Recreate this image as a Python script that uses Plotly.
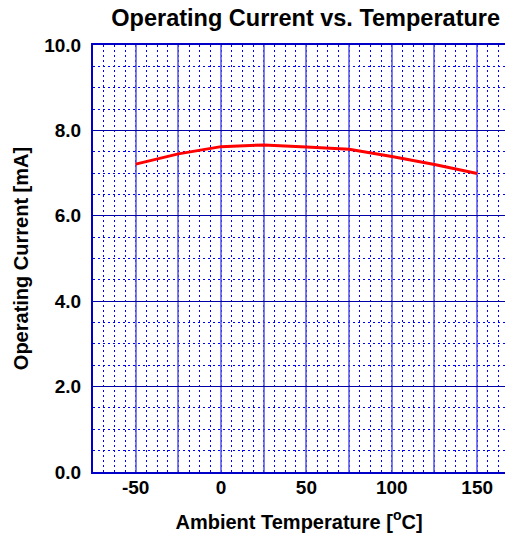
import plotly.graph_objects as go

# Operating current measured across ambient temperature
temperature_c = [-50, -25, 0, 25, 50, 75, 100, 125, 150]
current_ma = [7.21, 7.45, 7.62, 7.66, 7.61, 7.56, 7.39, 7.20, 6.99]

x_tick_vals = [-75, -50, -25, 0, 25, 50, 75, 100, 125, 150, 175]
x_tick_text = ["", "-50", "", "0", "", "50", "", "100", "", "150", ""]
y_tick_vals = [0, 2, 4, 6, 8, 10]
y_tick_text = ["0.0", "2.0", "4.0", "6.0", "8.0", "10.0"]

FONT = "Liberation Sans, Arial, sans-serif"
BORDER = "#0000c8"
DOT_BLUE = "#0000ff"

fig = go.Figure(
    go.Scatter(
        x=temperature_c,
        y=current_ma,
        mode="lines",
        line=dict(color="#ff0000", width=3),
        showlegend=False,
    )
)

fig.update_layout(
    width=505,
    height=541,
    margin=dict(l=93, r=0, t=45, b=69),
    paper_bgcolor="white",
    plot_bgcolor="white",
    font=dict(family=FONT, color="black", size=19, weight="bold"),
    title=dict(
        text="Operating Current vs. Temperature",
        x=0.988,
        xanchor="right",
        xref="paper",
        y=0.967,
        yanchor="middle",
        font=dict(family=FONT, size=23.5, weight="bold", color="black"),
    ),
)

fig.update_xaxes(
    range=[-75, 166.3],
    tickmode="array",
    tickvals=x_tick_vals,
    ticktext=x_tick_text,
    ticks="",
    ticklabelstandoff=-3,
    tickfont=dict(family=FONT, size=19, weight="bold"),
    showgrid=True,
    gridcolor="rgba(80,80,230,0.75)",
    gridwidth=2,
    zeroline=False,
    showline=True,
    linecolor=BORDER,
    linewidth=2,
    mirror=True,
    minor=dict(
        tick0=-75,
        dtick=6.25,
        showgrid=True,
        gridcolor=DOT_BLUE,
        gridwidth=1,
        griddash="2px,3px",
        ticks="",
    ),
    title=dict(
        text="Ambient Temperature [<sup>o</sup>C]",
        font=dict(family=FONT, size=20, weight="bold"),
        standoff=18,
    ),
)

fig.update_yaxes(
    range=[0, 10],
    tickmode="array",
    tickvals=y_tick_vals,
    ticktext=y_tick_text,
    ticks="",
    ticklabelstandoff=6,
    tickfont=dict(family=FONT, size=19, weight="bold"),
    showgrid=True,
    gridcolor="#0000a8",
    gridwidth=1.2,
    zeroline=False,
    showline=True,
    linecolor=BORDER,
    linewidth=2,
    mirror=False,
    minor=dict(
        tick0=0,
        dtick=0.5,
        showgrid=True,
        gridcolor=DOT_BLUE,
        gridwidth=1,
        griddash="2px,3px",
        ticks="",
    ),
    title=dict(
        text="Operating Current [mA]",
        font=dict(family=FONT, size=20, weight="bold"),
        standoff=10,
    ),
)

fig.write_html("out.html")
